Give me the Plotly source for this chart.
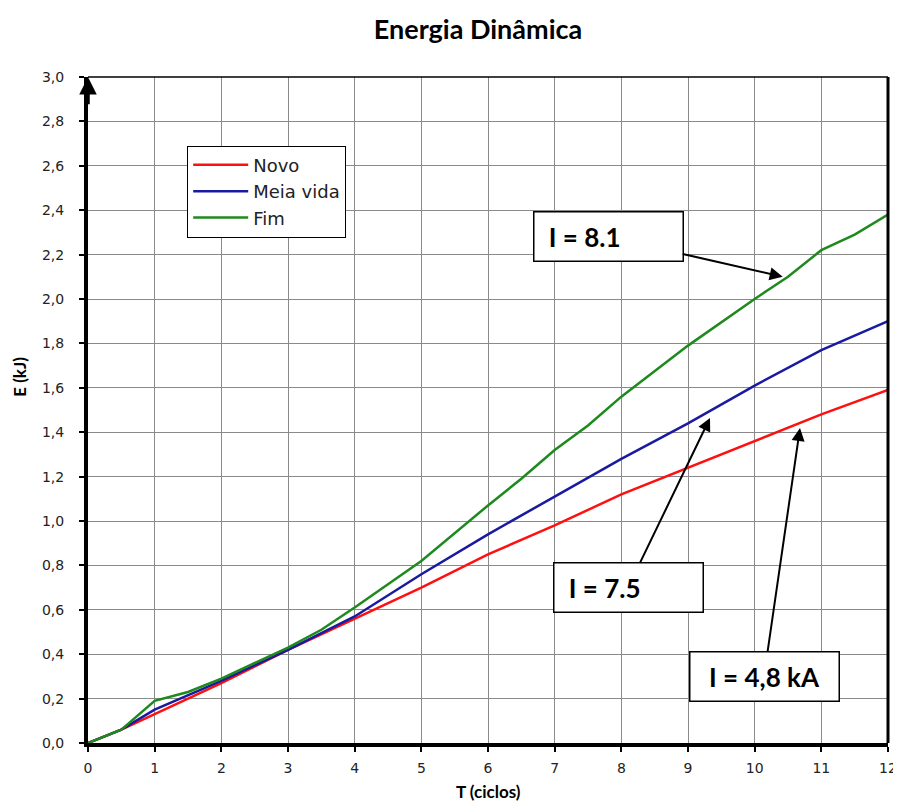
import plotly.graph_objects as go

# ---- data ----
t_fim = [0, 0.5, 1, 1.5, 2, 3, 3.5, 4, 5, 6, 6.5, 7, 7.5, 8, 9, 10, 10.5, 11, 11.5, 12]
e_fim = [0, 0.06, 0.19, 0.23, 0.29, 0.43, 0.51, 0.61, 0.82, 1.07, 1.19, 1.32, 1.43, 1.56, 1.79, 2.00, 2.10, 2.22, 2.29, 2.38]

t_meia = [0, 0.5, 1, 2, 3, 4, 5, 6, 7, 8, 9, 10, 11, 12]
e_meia = [0, 0.06, 0.15, 0.28, 0.42, 0.57, 0.76, 0.94, 1.11, 1.28, 1.44, 1.61, 1.77, 1.90]

t_novo = [0, 0.5, 1, 2, 3, 4, 5, 6, 7, 8, 9, 10, 11, 12]
e_novo = [0, 0.06, 0.13, 0.27, 0.42, 0.56, 0.70, 0.85, 0.98, 1.12, 1.24, 1.36, 1.48, 1.59]

x_ticks = list(range(0, 13))
y_ticks = [round(0.2 * i, 1) for i in range(16)]

# annotation labels: (text, arrow head x, head y, box centre x, box centre y)
labels = [
    ("I = 8.1", 10.42, 2.10, 7.80, 2.28),
    ("I = 7.5", 9.33, 1.464, 8.10, 0.70),
    ("I = 4,8 kA", 10.68, 1.419, 10.14, 0.30),
]
label_align = ["left", "left", "center"]

FONT_TXT = "Lato, Open Sans, sans-serif"

fig = go.Figure()
fig.add_trace(go.Scatter(x=t_novo, y=e_novo, mode="lines", name="Novo",
                         line=dict(color="#FF1010", width=2.5)))
fig.add_trace(go.Scatter(x=t_meia, y=e_meia, mode="lines", name="Meia vida",
                         line=dict(color="#1A1AA0", width=2.5)))
fig.add_trace(go.Scatter(x=t_fim, y=e_fim, mode="lines", name="Fim",
                         line=dict(color="#1E8A1E", width=2.5)))

annotations = []
for (text, hx, hy, bx, by), al in zip(labels, label_align):
    pre = "&nbsp;&nbsp;" if al == "left" else ""
    annotations.append(dict(
        x=hx, y=hy, xref="x", yref="y", ax=bx, ay=by, axref="x", ayref="y",
        text=pre + "<b>" + text + "</b>", showarrow=True, arrowhead=2, arrowsize=1.3,
        arrowwidth=2, arrowcolor="black",
        font=dict(family=FONT_TXT, size=26, color="black"),
        bgcolor="white", bordercolor="black", borderwidth=1.5,
        width=146, height=46, align=al))

# arrow at top of y-axis
annotations.append(dict(x=0, y=3.0, xref="x", yref="y", ax=0, ay=2.87,
                        axref="x", ayref="y", text="", showarrow=True,
                        arrowhead=2, arrowsize=1.0, arrowwidth=3.5,
                        arrowcolor="black"))

# axis titles
annotations.append(dict(text="<b>T (ciclos)</b>", xref="paper", yref="paper",
                        x=0.5, y=0, yshift=-48, xanchor="center", yanchor="middle",
                        showarrow=False,
                        font=dict(family=FONT_TXT, size=17, color="black")))
annotations.append(dict(text="<b>E (kJ)</b>", xref="paper", yref="paper",
                        x=0, y=0.55, xshift=-68, xanchor="center", yanchor="middle",
                        textangle=-90, showarrow=False,
                        font=dict(family=FONT_TXT, size=17, color="black")))

# the page body adds an 8px offset; the figure is sized to fill the 901x803 window
fig.update_layout(
    width=893, height=795,
    margin=dict(l=80, r=13, t=69, b=60, autoexpand=False),
    paper_bgcolor="white", plot_bgcolor="white",
    separators=",.",
    title=dict(text="<b>Energia Dinâmica</b>", x=0.4875, xanchor="center",
               xref="paper", y=1 - 22 / 795, yref="container", yanchor="middle",
               font=dict(family=FONT_TXT, size=27, color="black")),
    showlegend=True,
    legend=dict(x=0.124, y=0.897, xanchor="left", yanchor="top",
                bgcolor="white", bordercolor="black", borderwidth=1,
                font=dict(family="DejaVu Sans, sans-serif", size=18, color="#222"),
                itemwidth=55, tracegroupgap=0),
    annotations=annotations,
    shapes=[
        dict(type="line", xref="paper", yref="paper", x0=0, y0=1, x1=1, y1=1,
             line=dict(color="black", width=1.5), layer="above"),
        dict(type="line", xref="paper", yref="paper", x0=1, y0=0, x1=1, y1=1,
             line=dict(color="black", width=3), layer="above"),
    ],
)

fig.update_xaxes(
    range=[0, 12], tickvals=x_ticks, ticktext=[str(v) for v in x_ticks],
    automargin=False,
    showgrid=True, gridcolor="#8a8a8a", gridwidth=1,
    showline=True, linecolor="black", linewidth=4,
    ticks="outside", ticklen=5, tickcolor="black", tickwidth=1.5,
    ticklabelstandoff=4,
    tickfont=dict(family="DejaVu Sans, sans-serif", size=14, color="#222"),
    zeroline=False,
)
fig.update_yaxes(
    range=[0, 3.0], tickvals=y_ticks, tickformat=".1f",
    automargin=False,
    showgrid=True, gridcolor="#8a8a8a", gridwidth=1,
    showline=True, linecolor="black", linewidth=4,
    ticks="outside", ticklen=5, tickcolor="black", tickwidth=1.5,
    ticklabelstandoff=12,
    tickfont=dict(family="DejaVu Sans, sans-serif", size=14, color="#222"),
    zeroline=False,
)

fig.write_html("out.html")
